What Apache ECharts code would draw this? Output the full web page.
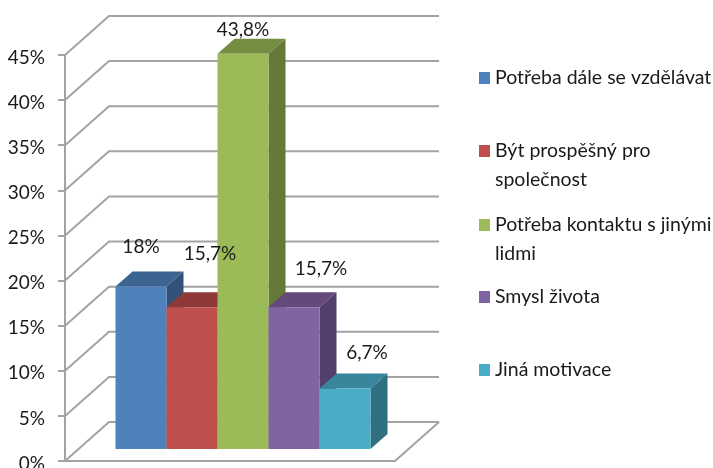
<!DOCTYPE html>
<html>
<head>
<meta charset="utf-8">
<style>
  html, body { margin: 0; padding: 0; background: #fff; }
  #main { width: 713px; height: 468px; }
</style>
<script src="https://cdn.jsdelivr.net/npm/echarts@6/dist/echarts.min.js"></script>
</head>
<body>
<div id="main"></div>
<script>
// data
var seriesNames = ["Potřeba dále se vzdělávat", "Být prospěšný pro společnost", "Potřeba kontaktu s jinými lidmi", "Smysl života", "Jiná motivace"];
var legendFirstLines = ["Potřeba dále se vzdělávat", "Být prospěšný pro", "Potřeba kontaktu s jinými", "Smysl života", "Jiná motivace"];
var legendSecondLines = ["", "společnost", "lidmi", "", ""];
var values = [18, 15.7, 43.8, 15.7, 6.7];
var valueLabels = ["18%", "15,7%", "43,8%", "15,7%", "6,7%"];
var yTicks = [0, 5, 10, 15, 20, 25, 30, 35, 40, 45];

// colours: front, top, side
var frontColors = ["#4f81bd", "#c0504d", "#9bbb59", "#8064a2", "#4bacc6"];
var topColors = ["#3c6491", "#8f3a38", "#768e44", "#63497c", "#38869b"];
var sideColors = ["#33507a", "#7a302e", "#65793a", "#533f6b", "#2f6f80"];

// hand placed labels in the original, offset from the front top middle of each bar
var labelDx = [0, 18, 0, 27, 22];
var labelDy = [-40, -53, -24, -38, -36];
var legendTops = [68, 141, 215, 287, 360];
var secondLineTops = [0, 170, 244, 0, 0];

var FONT = "Lato";
var WALL = { x: 44, y: -39 };     // depth of the floor
var BAR_FRONT = { x: 13, y: -12 }; // bars stand a bit behind the front edge
var BAR_DEPTH = { x: 17, y: -15 };
var BAR_W_RATIO = 51 / 330;
var LINE = "#a3a3a3";
var LINE_W = 2;

function wallItem(params, api) {
  var rect = params.coordSys;
  var y = api.coord([0, api.value(1)])[1];
  var x0 = rect.x, x1 = rect.x + rect.width;
  var children = [{
    type: "polyline",
    shape: { points: [[x0, y], [x0 + WALL.x, y + WALL.y], [x1 + WALL.x, y + WALL.y]] },
    style: { stroke: LINE, fill: null, lineWidth: LINE_W }
  }];
  if (api.value(1) === 0) {
    children.push({
      type: "line",
      shape: { x1: x1, y1: y, x2: x1 + WALL.x, y2: y + WALL.y },
      style: { stroke: LINE, lineWidth: LINE_W }
    });
  }
  return { type: "group", children: children };
}

function barGeom(i, api) {
  var top = api.coord([0, api.value(1)]);
  var base = api.coord([0, 0]);
  var w = api.size([1, 0])[0] * BAR_W_RATIO;
  var left = top[0] + (i - 2.5) * w + BAR_FRONT.x;
  return { left: left, right: left + w, w: w, yt: top[1] + BAR_FRONT.y, yb: base[1] + BAR_FRONT.y };
}

function barItem(i) {
  return function (params, api) {
    var g = barGeom(i, api);
    var dx = BAR_DEPTH.x, dy = BAR_DEPTH.y;
    return {
      type: "group",
      children: [
        { type: "polygon", shape: { points: [[g.left, g.yt], [g.left + dx, g.yt + dy], [g.right + dx, g.yt + dy], [g.right, g.yt]] }, style: { fill: topColors[i] } },
        { type: "polygon", shape: { points: [[g.right, g.yt], [g.right + dx, g.yt + dy], [g.right + dx, g.yb + dy], [g.right, g.yb]] }, style: { fill: sideColors[i] } },
        { type: "rect", shape: { x: g.left, y: g.yt, width: g.w, height: g.yb - g.yt }, style: { fill: frontColors[i] } }
      ]
    };
  };
}

// labels go in their own series so the next bar can't cover them
function labelItem(params, api) {
  var i = params.dataIndex;
  var g = barGeom(i, api);
  return {
    type: "text",
    style: {
      x: (g.left + g.right) / 2 + labelDx[i], y: g.yt + labelDy[i],
      text: valueLabels[i], fill: "#1a1a1a",
      font: "19px " + FONT, align: "center", verticalAlign: "middle"
    }
  };
}

var series = [{
  type: "custom",
  name: "wall",
  silent: true,
  clip: false,
  z: 1,
  encode: { x: 0, y: 1 },
  data: yTicks.map(function (t) { return [0, t]; }),
  renderItem: wallItem
}];
seriesNames.forEach(function (name, i) {
  series.push({
    type: "custom",
    name: name,
    clip: false,
    z: 3 + i,
    encode: { x: 0, y: 1 },
    itemStyle: { color: frontColors[i] },
    data: [[0, values[i]]],
    renderItem: barItem(i)
  });
});
series.push({
  type: "custom",
  name: "labels",
  silent: true,
  clip: false,
  z: 20,
  encode: { x: 0, y: 1 },
  data: values.map(function (v) { return [0, v]; }),
  renderItem: labelItem
});

var legends = seriesNames.map(function (name, i) {
  return {
    data: [name],
    orient: "vertical",
    left: 479,
    top: legendTops[i],
    padding: 0,
    icon: "rect",
    itemWidth: 11,
    itemHeight: 12,
    itemGap: 0,
    selectedMode: false,
    formatter: function () { return legendFirstLines[i]; },
    textStyle: { fontFamily: FONT, fontSize: 19.5, color: "#1a1a1a" }
  };
});

var secondLines = [];
legendSecondLines.forEach(function (t, i) {
  if (t) {
    secondLines.push({
      type: "text",
      left: 495,
      top: secondLineTops[i],
      style: { text: t, fill: "#1a1a1a", font: "19.5px " + FONT }
    });
  }
});

var myChart = echarts.init(document.getElementById("main"), null, { renderer: "canvas" });
myChart.setOption({
  animation: false,
  backgroundColor: "#fff",
  grid: { left: 65, top: 55, width: 330, height: 406, outerBoundsMode: "none" },
  xAxis: {
    type: "category",
    data: [""],
    axisLine: { lineStyle: { color: LINE, width: LINE_W } },
    axisTick: { show: false },
    axisLabel: { show: false }
  },
  yAxis: {
    type: "value",
    min: 0,
    max: 45,
    interval: 5,
    axisLine: { show: true, lineStyle: { color: LINE, width: LINE_W } },
    axisTick: { show: true, length: 7, lineStyle: { color: LINE, width: LINE_W } },
    splitLine: { show: false },
    axisLabel: {
      formatter: "{value}%",
      margin: 20,
      verticalAlign: "top",
      lineHeight: 5,
      fontFamily: FONT,
      fontSize: 19,
      color: "#1a1a1a"
    }
  },
  legend: legends,
  graphic: secondLines,
  series: series
});
</script>
</body>
</html>
